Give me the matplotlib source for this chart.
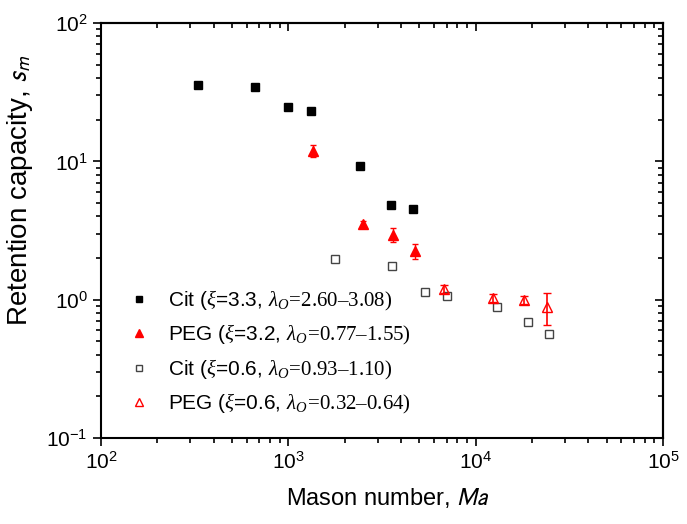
import matplotlib
matplotlib.use("Agg")
import matplotlib.pyplot as plt
from matplotlib.ticker import NullFormatter

plt.rcParams["font.family"] = ["Liberation Sans", "DejaVu Sans"]
plt.rcParams["mathtext.fontset"] = "custom"
plt.rcParams["mathtext.rm"] = "Liberation Serif"
plt.rcParams["mathtext.it"] = "Liberation Serif:italic"
plt.rcParams["mathtext.bf"] = "Liberation Serif:bold"
plt.rcParams["axes.unicode_minus"] = False

# Cit (xi=3.3), filled squares
cit_hi_ma = [331, 664, 993, 1322, 2415, 3524, 4613]
cit_hi_sm = [35.6, 34.7, 24.7, 23.3, 9.2, 4.82, 4.51]

# PEG (xi=3.2), filled triangles
peg_hi_ma = [1362, 2495, 3622, 4762]
peg_hi_sm = [11.9, 3.53, 2.96, 2.24]
peg_hi_err = [1.2, 0.15, 0.35, 0.27]

# Cit (xi=0.6), open squares
cit_lo_ma = [1782, 3565, 5344, 7063, 13060, 18960, 24760]
cit_lo_sm = [1.97, 1.76, 1.13, 1.06, 0.885, 0.694, 0.564]

# PEG (xi=0.6), open triangles
peg_lo_ma = [6810, 12450, 18070, 24150]
peg_lo_sm = [1.20, 1.03, 1.00, 0.89]
peg_lo_err = [0.08, 0.07, 0.07, 0.235]

labels = [
    r"Cit ($\xi$=3.3, $\lambda_O\!=\!\mathrm{2.60–3.08)}$",
    r"PEG ($\xi$=3.2, $\lambda_O\!=\!\mathrm{0.77–1.55)}$",
    r"Cit ($\xi$=0.6, $\lambda_O\!=\!\mathrm{0.93–1.10)}$",
    r"PEG ($\xi$=0.6, $\lambda_O\!=\!\mathrm{0.32–0.64)}$",
]

fig = plt.figure(figsize=(6.87, 5.24), dpi=100)
ax = fig.add_axes([0.147, 0.164, 0.818, 0.792])
ax.set_xscale("log")
ax.set_yscale("log")

h1, = ax.plot(cit_hi_ma, cit_hi_sm, ls="none", marker="s", ms=5.8,
              color="black", zorder=3)
eb2 = ax.errorbar(peg_hi_ma, peg_hi_sm, yerr=peg_hi_err, fmt="^", ms=7.5,
                  color="red", ecolor="red", elinewidth=1, capsize=2, zorder=3)
h3, = ax.plot(cit_lo_ma, cit_lo_sm, ls="none", marker="s", ms=5.8, mfc="white",
              mec="#444444", mew=1, zorder=3)
eb4 = ax.errorbar(peg_lo_ma, peg_lo_sm, yerr=peg_lo_err, fmt="^", ms=7.5,
                  mfc="none", mec="red", mew=1, ecolor="red", elinewidth=1.2,
                  capsize=3, zorder=3)

ax.set_xlim(1e2, 1e5)
ax.set_ylim(1e-1, 1e2)

for s in ax.spines.values():
    s.set_linewidth(1.5)
ax.tick_params(which="both", direction="out", width=1.2, labelsize=15,
               top=False, right=False)
ax.tick_params(which="major", length=6)
ax.tick_params(which="minor", length=3.5)

# top and right ticks point inward, bottom and left outward
secx = ax.secondary_xaxis("top")
secy = ax.secondary_yaxis("right")
for sec, axis in ((secx, secx.xaxis), (secy, secy.yaxis)):
    sec.tick_params(which="both", direction="in", width=1.2)
    sec.tick_params(which="major", length=6)
    sec.tick_params(which="minor", length=3.5)
    axis.set_major_formatter(NullFormatter())
    axis.set_minor_formatter(NullFormatter())
    for s in sec.spines.values():
        s.set_linewidth(1.5)

ax.set_xlabel("Mason number, $Ma$", fontsize=17, math_fontfamily="stixsans")
ax.set_ylabel("Retention capacity, $s_m$", fontsize=20,
              math_fontfamily="stixsans")
ax.xaxis.set_label_coords(0.511, -0.116)
ax.yaxis.set_label_coords(-0.117, 0.598)

handles = [h1, eb2[0], h3, eb4[0]]
leg = ax.legend(handles, labels, loc="upper left", bbox_to_anchor=(0.016, 0.405),
                frameon=False, fontsize=15, markerscale=0.75,
                handlelength=1.0, handletextpad=0.9, labelspacing=0.5)

fig.savefig("out.png", dpi=100)
